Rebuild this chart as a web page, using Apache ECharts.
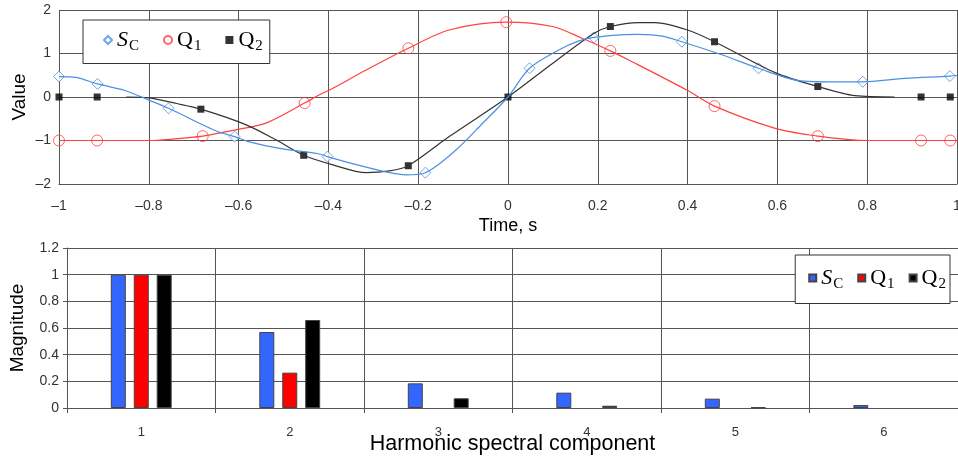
<!DOCTYPE html>
<html>
<head>
<meta charset="utf-8">
<script src="https://cdn.jsdelivr.net/npm/echarts@6/dist/echarts.min.js"></script>
<style>
  html, body { margin: 0; padding: 0; background: #fff; }
  #chart { width: 958px; height: 461px; }
</style>
</head>
<body>
<div id="chart"></div>
<script>
// time-domain curves [t, value]
var scCurve = [[-1, 0.47], [-0.962, 0.45], [-0.914, 0.3], [-0.853, 0.15], [-0.805, -0.05], [-0.756, -0.26],
  [-0.65, -0.78], [-0.609, -0.91], [-0.576, -1.03], [-0.509, -1.18], [-0.42, -1.31], [-0.402, -1.37],
  [-0.34, -1.55], [-0.272, -1.72], [-0.227, -1.79], [-0.184, -1.74], [-0.116, -1.22], [-0.057, -0.61],
  [0, 0], [0.048, 0.66], [0.113, 1.08], [0.158, 1.29], [0.191, 1.37], [0.25, 1.43], [0.291, 1.44],
  [0.343, 1.4], [0.387, 1.27], [0.476, 0.97], [0.558, 0.66], [0.64, 0.39], [0.713, 0.35], [0.79, 0.35],
  [0.883, 0.43], [0.984, 0.48], [1, 0.5]];
var q1Curve = [[-1, -1], [-0.915, -1], [-0.8, -1], [-0.75, -0.97], [-0.68, -0.9], [-0.609, -0.76],
  [-0.539, -0.6], [-0.453, -0.14], [-0.42, 0.05], [-0.39, 0.2], [-0.316, 0.62], [-0.222, 1.12],
  [-0.131, 1.54], [-0.004, 1.72], [0.099, 1.62], [0.165, 1.35], [0.228, 1.06], [0.269, 0.85],
  [0.398, 0.16], [0.46, -0.21], [0.595, -0.72], [0.69, -0.9], [0.76, -0.98], [0.8, -1], [0.92, -1], [1, -1]];
var q2Curve = [[-0.85, 0], [-0.8, -0.02], [-0.738, -0.15], [-0.684, -0.28], [-0.583, -0.64],
  [-0.516, -0.99], [-0.455, -1.34], [-0.39, -1.56], [-0.316, -1.74], [-0.264, -1.7], [-0.222, -1.58],
  [-0.131, -0.91], [0, 0], [0.099, 0.77], [0.191, 1.46], [0.228, 1.62], [0.291, 1.71], [0.328, 1.71],
  [0.4, 1.54], [0.46, 1.27], [0.595, 0.56], [0.69, 0.24], [0.773, 0.03], [0.861, 0]];

// marker points
var scMarks = [[-1, 0.47], [-0.914, 0.3], [-0.756, -0.26], [-0.609, -0.91], [-0.402, -1.37], [-0.184, -1.74],
  [0.048, 0.66], [0.191, 1.37], [0.387, 1.27], [0.558, 0.66], [0.79, 0.35], [0.984, 0.48]];
var q1Marks = [[-1, -1], [-0.915, -1], [-0.68, -0.9], [-0.453, -0.14], [-0.222, 1.12], [-0.004, 1.72],
  [0.228, 1.06], [0.46, -0.21], [0.69, -0.9], [0.92, -1], [0.985, -1]];
var q2Marks = [[-1, 0], [-0.915, 0], [-0.684, -0.28], [-0.455, -1.34], [-0.222, -1.58], [0, 0],
  [0.228, 1.62], [0.46, 1.27], [0.69, 0.24], [0.92, 0], [0.985, 0]];

// harmonic spectrum
var harmonics = ["1", "2", "3", "4", "5", "6"];
var scMag = [1, 0.57, 0.185, 0.115, 0.07, 0.022];
var q1Mag = [1, 0.265, null, null, null, null];
var q2Mag = [1, 0.66, 0.073, 0.017, 0.005, null];

var blueLine = "#4a90e2", redLine = "#ff4040", blackLine = "#333";
var gridColor = "#555";
var sans = "Liberation Sans";
var serif = "Liberation Serif";

var legendNames = { SC: "{it|S}{sub|C}", Q1: "{rm|Q}{sub|1}", Q2: "{rm|Q}{sub|2}" };
var legendRich = {
  it: { fontFamily: serif, fontStyle: "italic", fontSize: 22, color: "#000" },
  rm: { fontFamily: serif, fontSize: 22, color: "#000" },
  sub: { fontFamily: serif, fontSize: 15, color: "#000", padding: [12, 0, 0, 1] },
};

function dash(v) {
  return String(v).replace("-", "\u2013");
}

var myChart = echarts.init(document.getElementById("chart"));
var axisLbl = { color: "#333", fontFamily: sans, fontSize: 14 };
var nameStyle = { color: "#000", fontFamily: sans, fontSize: 19 };

var option = {
  animation: false,
  grid: [
    { left: 59, right: 1, top: 10, height: 174, outerBoundsMode: "none" },
    { left: 67, right: 0, top: 248, height: 160, outerBoundsMode: "none" },
  ],
  legend: [
    {
      data: [{ name: "SC", icon: "diamond" }, { name: "Q1", icon: "circle" }, { name: "Q2", icon: "rect" }],
      left: 83, top: 20, orient: "horizontal",
      padding: [9, 7, 10, 20], itemGap: 24, itemWidth: 8, itemHeight: 8,
      backgroundColor: "#fff", borderColor: "#333", borderWidth: 1,
      formatter: function (n) { return legendNames[n]; },
      textStyle: { fontFamily: serif, fontSize: 22, rich: legendRich },
    },
    {
      data: [{ name: "SC bar", icon: "rect" }, { name: "Q1 bar", icon: "rect" }, { name: "Q2 bar", icon: "rect" }],
      right: 8, top: 255, orient: "horizontal",
      padding: [12, 4, 12, 13], itemGap: 14, itemWidth: 7, itemHeight: 7,
      backgroundColor: "#fff", borderColor: "#333", borderWidth: 1,
      formatter: function (n) { return legendNames[n.replace(" bar", "")]; },
      textStyle: { fontFamily: serif, fontSize: 22, rich: legendRich },
    },
  ],
  xAxis: [
    {
      gridIndex: 0, type: "value", min: -1, max: 1, interval: 0.2,
      name: "Time, s", nameLocation: "middle", nameGap: 33, nameMoveOverlap: false,
      nameTextStyle: Object.assign({}, nameStyle, { fontSize: 18 }),
      axisLine: { onZero: false, lineStyle: { color: gridColor } },
      axisTick: { show: false },
      axisLabel: Object.assign({ margin: 15, formatter: dash }, axisLbl),
      splitLine: { lineStyle: { color: gridColor, width: 1 } },
    },
    {
      gridIndex: 1, type: "category", data: harmonics, boundaryGap: true,
      name: "Harmonic spectral component", nameLocation: "middle", nameGap: 25, nameMoveOverlap: false,
      nameTextStyle: { color: "#000", fontFamily: sans, fontSize: 21.5 },
      axisLine: { lineStyle: { color: gridColor } },
      axisTick: { show: true, length: 5, lineStyle: { color: gridColor } },
      axisLabel: Object.assign({ margin: 18 }, axisLbl, { fontSize: 13 }),
      splitLine: { show: true, lineStyle: { color: gridColor } },
    },
  ],
  yAxis: [
    {
      gridIndex: 0, type: "value", min: -2, max: 2, interval: 1,
      name: "Value", nameLocation: "middle", nameGap: 30, nameMoveOverlap: false, nameTextStyle: nameStyle,
      axisLine: { show: true, lineStyle: { color: gridColor } },
      axisTick: { show: true, length: 4, lineStyle: { color: gridColor } },
      axisLabel: Object.assign({ margin: 8, formatter: dash }, axisLbl),
      splitLine: { lineStyle: { color: gridColor } },
    },
    {
      gridIndex: 1, type: "value", min: 0, max: 1.2, interval: 0.2,
      name: "Magnitude", nameLocation: "middle", nameGap: 40, nameMoveOverlap: false, nameTextStyle: nameStyle,
      axisLine: { show: true, lineStyle: { color: gridColor } },
      axisTick: { show: true, length: 4, lineStyle: { color: gridColor } },
      axisLabel: Object.assign({ margin: 8 }, axisLbl),
      splitLine: { lineStyle: { color: gridColor } },
    },
  ],
  series: [
    { type: "line", xAxisIndex: 0, yAxisIndex: 0, data: q1Curve, smooth: 0.3, showSymbol: false, silent: true,
      lineStyle: { color: redLine, width: 1.2 } },
    { type: "line", xAxisIndex: 0, yAxisIndex: 0, data: q2Curve, smooth: 0.3, showSymbol: false, silent: true,
      lineStyle: { color: blackLine, width: 1.2 } },
    { type: "line", xAxisIndex: 0, yAxisIndex: 0, data: scCurve, smooth: 0.3, showSymbol: false, silent: true,
      lineStyle: { color: blueLine, width: 1.2 } },
    { name: "SC", type: "scatter", xAxisIndex: 0, yAxisIndex: 0, data: scMarks, symbol: "diamond", symbolSize: 11,
      itemStyle: { color: "#fff", borderColor: blueLine, borderWidth: 1 } },
    { name: "Q1", type: "scatter", xAxisIndex: 0, yAxisIndex: 0, data: q1Marks, symbol: "circle", symbolSize: 11,
      itemStyle: { color: "rgba(255,255,255,0)", borderColor: redLine, borderWidth: 1 } },
    { name: "Q2", type: "scatter", xAxisIndex: 0, yAxisIndex: 0, data: q2Marks, symbol: "rect", symbolSize: 7,
      itemStyle: { color: "#000" } },
    { name: "SC bar", type: "bar", xAxisIndex: 1, yAxisIndex: 1, data: scMag, barWidth: 15, barGap: "53%",
      itemStyle: { color: "#3366ff", borderColor: "#444", borderWidth: 1 } },
    { name: "Q1 bar", type: "bar", xAxisIndex: 1, yAxisIndex: 1, data: q1Mag, barWidth: 15, barGap: "53%",
      itemStyle: { color: "#ff0000", borderColor: "#444", borderWidth: 1 } },
    { name: "Q2 bar", type: "bar", xAxisIndex: 1, yAxisIndex: 1, data: q2Mag, barWidth: 15, barGap: "53%",
      itemStyle: { color: "#000000", borderColor: "#444", borderWidth: 1 } },
  ],
};

option && myChart.setOption(option);
</script>
</body>
</html>
